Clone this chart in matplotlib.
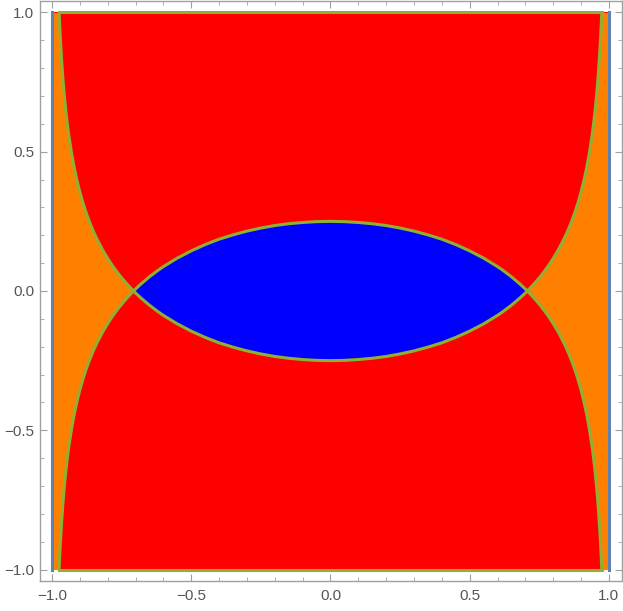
import numpy as np
import matplotlib
matplotlib.use("Agg")
import matplotlib.pyplot as plt

# boundary curve y = f(x), right half, mirrored for the left half
half_x = [0.0, 0.05, 0.1, 0.15, 0.2, 0.25, 0.3, 0.35, 0.4, 0.45, 0.5, 0.55, 0.6,
          0.62, 0.65, 0.68, 0.7, 0.7071, 0.72, 0.74, 0.76, 0.78, 0.8, 0.82, 0.84,
          0.85, 0.86, 0.87, 0.88, 0.89, 0.9, 0.91, 0.92, 0.93, 0.94, 0.945,
          0.95, 0.955, 0.96, 0.965, 0.97, 0.9725, 0.9744]
half_f = [-0.25, -0.249, -0.246, -0.2415, -0.235, -0.226, -0.215, -0.2015, -0.186,
          -0.1666, -0.144, -0.118, -0.0875, -0.0737, -0.051, -0.0256, -0.007, 0.0,
          0.0133, 0.0354, 0.0597, 0.0866, 0.1167, 0.1506, 0.1895, 0.2112, 0.2348,
          0.2605, 0.2888, 0.3203, 0.3556, 0.3957, 0.4419, 0.4964, 0.5621, 0.6008,
          0.6445, 0.6947, 0.7529, 0.8222, 0.9067, 0.9571, 1.0]

domain_x = [-1.0, 1.0]
domain_y = [-1.0, 1.0]
x_cross = 0.7071
x_top = 0.9744

x_ticks = [-1.0, -0.5, 0.0, 0.5, 1.0]
y_ticks = [-1.0, -0.5, 0.0, 0.5, 1.0]
tick_labels = ["\u22121.0", "\u22120.5", "0.0", "0.5", "1.0"]

RED = "#FF0000"
BLUE = "#0000FF"
ORANGE = "#FF8000"
GREEN = "#8FB032"
STEEL = "#5E81B5"


def main():
    hx = np.array(half_x)
    hf = np.array(half_f)
    xs = np.concatenate([-hx[::-1], hx[1:]])
    fs = np.concatenate([hf[::-1], hf[1:]])

    fig = plt.figure(figsize=(6.23, 6.11), dpi=100)
    ax = fig.add_axes([40 / 623, 30 / 611, 582 / 623, 580 / 611])

    # red everywhere in the square
    ax.fill_between(domain_x, domain_y[0], domain_y[1], color=RED, lw=0)

    # blue lens in the middle
    inner = np.abs(xs) <= x_cross
    ax.fill_between(xs[inner], fs[inner], -fs[inner], color=BLUE, lw=0)

    # orange wedges at the sides, running out to x = +-1
    right = hx >= x_cross
    ox = np.append(hx[right], domain_x[1])
    oy = np.append(hf[right], domain_y[1])
    ax.fill_between(ox, -oy, oy, color=ORANGE, lw=0)
    ax.fill_between(-ox, -oy, oy, color=ORANGE, lw=0)

    # boundaries
    lw = 2.2
    ax.plot(xs, fs, color=GREEN, lw=lw, solid_capstyle="butt", zorder=3)
    ax.plot(xs, -fs, color=GREEN, lw=lw, solid_capstyle="butt", zorder=3)
    ax.plot([-x_top, x_top], [domain_y[1]] * 2, color=GREEN, lw=lw, zorder=3)
    ax.plot([-x_top, x_top], [domain_y[0]] * 2, color=GREEN, lw=lw, zorder=3)
    ax.plot([domain_x[0]] * 2, domain_y, color=STEEL, lw=lw, zorder=4)
    ax.plot([domain_x[1]] * 2, domain_y, color=STEEL, lw=lw, zorder=4)

    ax.set_xlim(-1.043, 1.047)
    ax.set_ylim(-1.041, 1.041)
    ax.set_xticks(x_ticks)
    ax.set_yticks(y_ticks)
    ax.set_xticklabels(tick_labels)
    ax.set_yticklabels(tick_labels)
    ax.set_xticks(np.arange(-1.0, 1.01, 0.1), minor=True)
    ax.set_yticks(np.arange(-1.0, 1.01, 0.1), minor=True)

    for s in ax.spines.values():
        s.set_color("#a0a0a0")
        s.set_linewidth(1.0)
    ax.tick_params(which="both", direction="in", top=True, right=True,
                   color="#a0a0a0", labelcolor="#555555", labelsize=11)
    ax.tick_params(which="major", length=5, width=0.8)
    ax.tick_params(which="minor", length=3, width=0.6)
    ax.tick_params(axis="x", pad=6)
    ax.tick_params(axis="y", pad=4)
    for lab in ax.get_xticklabels() + ax.get_yticklabels():
        lab.set_family("Liberation Sans")

    fig.savefig("out.png", dpi=100)


if __name__ == "__main__":
    main()
